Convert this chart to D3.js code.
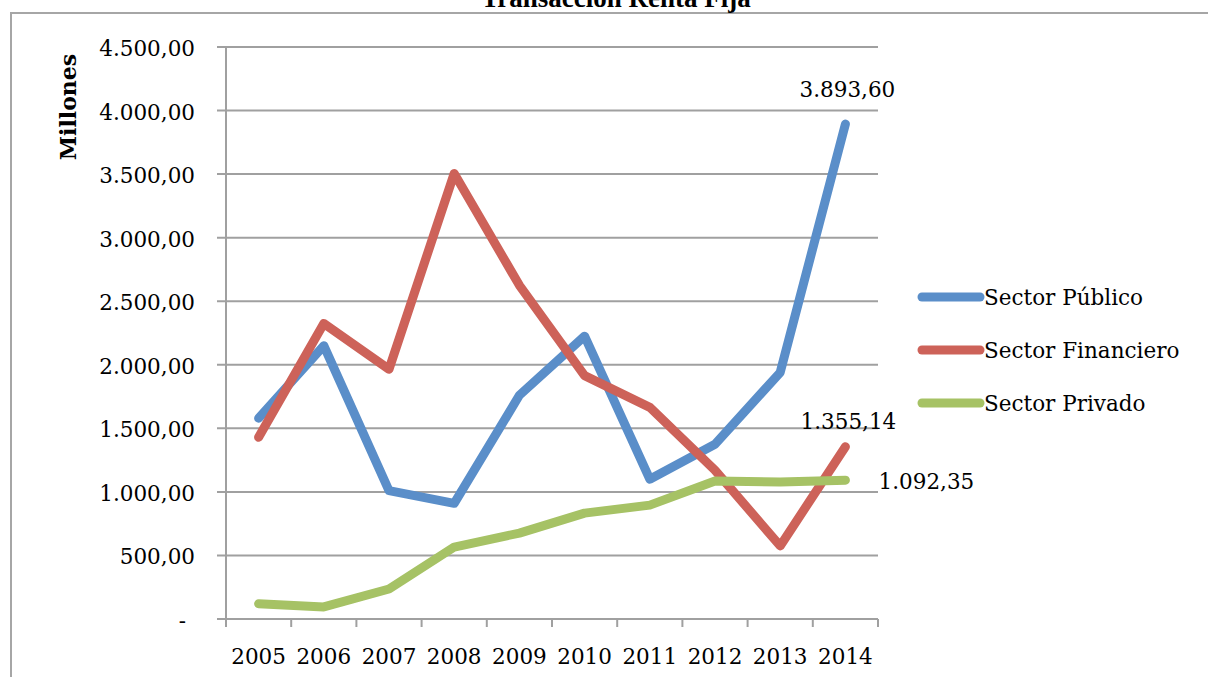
<!DOCTYPE html>
<html>
<head>
<meta charset="utf-8">
<script src="https://cdn.jsdelivr.net/npm/d3@7"></script>
<style>
  html, body { margin: 0; padding: 0; background: #fff; }
  svg { display: block; }
  text { font-family: "DejaVu Serif", serif; fill: #000; }
</style>
</head>
<body>
<svg id="chart" width="1208" height="677"></svg>
<script>
// Annual fixed-income transactions by sector (millions)
const years = ["2005", "2006", "2007", "2008", "2009", "2010", "2011", "2012", "2013", "2014"];
const sectorPublico    = [1580, 2150, 1010, 910, 1760, 2225, 1100, 1375, 1940, 3893.60];
const sectorFinanciero = [1430, 2325, 1965, 3505, 2625, 1915, 1665, 1170, 575, 1355.14];
const sectorPrivado    = [120, 95, 236, 566, 676, 833, 896, 1085, 1077, 1092.35];
const seriesNames  = ["Sector Público", "Sector Financiero", "Sector Privado"];
const seriesColors = ["#5A8EC9", "#CD6259", "#A6C265"];
const yTicks = [0, 500, 1000, 1500, 2000, 2500, 3000, 3500, 4000, 4500];

const series = [sectorPublico, sectorFinanciero, sectorPrivado].map((vals, i) => ({
  name: seriesNames[i], color: seriesColors[i], values: vals
}));

const locale = d3.formatLocale({ decimal: ",", thousands: ".", grouping: [3], currency: ["", ""] });
const fmt = locale.format(",.2f");

const svg = d3.select("#chart");
const plot = { left: 226, right: 878, top: 47, bottom: 619 };
const gridColor = "#A0A0A0";
const labelSize = "21.5px";

const x = d3.scaleBand().domain(years).range([plot.left, plot.right]);
const y = d3.scaleLinear().domain([0, 4500]).range([plot.bottom, plot.top]);
const cx = d => x(d) + x.bandwidth() / 2;

// outer frame
svg.append("rect").attr("x", 11).attr("y", 13).attr("width", 1210).attr("height", 680)
  .attr("fill", "none").attr("stroke", "#A6A6A6").attr("stroke-width", 2);

// title (sits above the frame)
svg.append("text").attr("x", 616).attr("y", 7).attr("text-anchor", "middle")
  .style("font-family", "'Liberation Serif', serif").style("font-weight", "bold").style("font-size", "27px")
  .text("Transacción Renta Fija");

// horizontal gridlines + y tick marks
svg.append("g").selectAll("line").data(yTicks).join("line")
  .attr("x1", plot.left - 9).attr("x2", plot.right)
  .attr("y1", d => y(d)).attr("y2", d => y(d))
  .attr("stroke", gridColor).attr("stroke-width", 2);

// y axis line
svg.append("line").attr("x1", plot.left).attr("x2", plot.left)
  .attr("y1", plot.top).attr("y2", plot.bottom + 8)
  .attr("stroke", gridColor).attr("stroke-width", 2);

// x axis tick marks at category boundaries
const boundaries = years.map(d => x(d)).concat([plot.right]);
svg.append("g").selectAll("line").data(boundaries).join("line")
  .attr("x1", d => d).attr("x2", d => d)
  .attr("y1", plot.bottom).attr("y2", plot.bottom + 8)
  .attr("stroke", gridColor).attr("stroke-width", 2);

// y tick labels
svg.append("g").selectAll("text").data(yTicks).join("text")
  .attr("x", d => d === 0 ? 186 : 195)
  .attr("y", d => y(d) + 9)
  .attr("text-anchor", "end")
  .style("font-size", labelSize)
  .text(d => d === 0 ? "-" : fmt(d));

// x tick labels
svg.append("g").selectAll("text").data(years).join("text")
  .attr("x", d => cx(d)).attr("y", 664)
  .attr("text-anchor", "middle")
  .style("font-size", labelSize)
  .text(d => d);

// y axis title
svg.append("text")
  .attr("transform", "translate(76,107) rotate(-90)")
  .attr("text-anchor", "middle")
  .style("font-weight", "bold").style("font-size", "22px")
  .text("Millones");

// series lines
const line = d3.line().x((v, i) => cx(years[i])).y(v => y(v));
svg.append("g").selectAll("path").data(series).join("path")
  .attr("d", s => line(s.values))
  .attr("fill", "none").attr("stroke", s => s.color)
  .attr("stroke-width", 9).attr("stroke-linecap", "round").attr("stroke-linejoin", "round");

// value labels on the last point of each series
const last = years.length - 1;
const labelOffsets = [
  { dx: 2, dy: -27 },
  { dx: 3, dy: -18 },
  { dx: 81, dy: 9 }
];
svg.append("g").selectAll("text").data(series).join("text")
  .attr("x", (s, i) => cx(years[last]) + labelOffsets[i].dx)
  .attr("y", (s, i) => y(s.values[last]) + labelOffsets[i].dy)
  .attr("text-anchor", "middle")
  .style("font-size", labelSize)
  .text(s => fmt(s.values[last]));

// legend
const legend = svg.append("g").selectAll("g").data(series).join("g")
  .attr("transform", (s, i) => `translate(922,${297 + i * 53})`);
legend.append("line").attr("x1", 0).attr("x2", 58).attr("y1", 0).attr("y2", 0)
  .attr("stroke", s => s.color).attr("stroke-width", 9).attr("stroke-linecap", "round");
legend.append("text").attr("x", 62).attr("y", 8)
  .style("font-size", labelSize)
  .text(s => s.name);
</script>
</body>
</html>
